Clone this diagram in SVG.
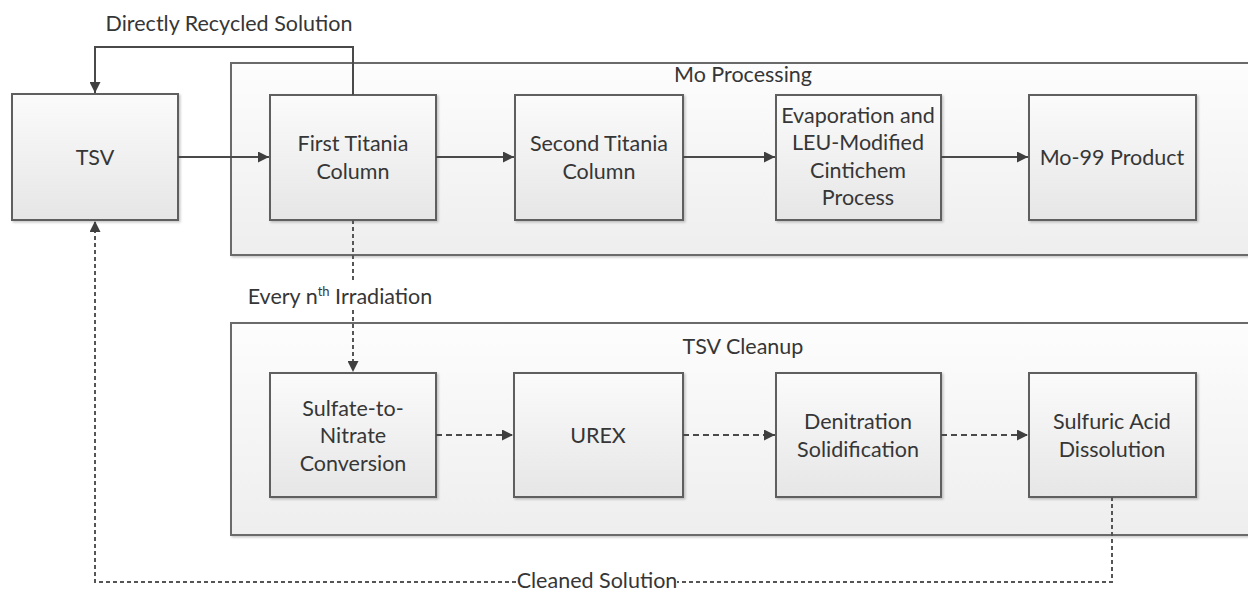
<svg xmlns="http://www.w3.org/2000/svg" width="1248" height="592" viewBox="0 0 1248 592">
<style>
.t{font-family:Lato,"Liberation Sans",sans-serif;font-size:21.5px;fill:#363636;text-anchor:middle}
.box{fill:url(#gb);stroke:#5e5e5e;stroke-width:2}
.cont{fill:url(#gc);stroke:#6a6a6a;stroke-width:2}
.c{fill:none;stroke:#4a4a4a;stroke-width:2}
.d{fill:none;stroke:#4a4a4a;stroke-width:2;stroke-dasharray:6 4}
.dd{fill:none;stroke:#555;stroke-width:2;stroke-dasharray:4 3}
</style>
<defs>
<linearGradient id="gb" x1="0" y1="0" x2="0" y2="1"><stop offset="0" stop-color="#fbfbfb"/><stop offset="1" stop-color="#e6e6e6"/></linearGradient>
<linearGradient id="gc" x1="0" y1="0" x2="0" y2="1"><stop offset="0" stop-color="#fdfdfd"/><stop offset="1" stop-color="#eeeeee"/></linearGradient>
<filter id="sh" x="-5%" y="-5%" width="115%" height="115%"><feDropShadow dx="1.5" dy="1.5" stdDeviation="1.2" flood-color="#000" flood-opacity="0.22"/></filter>
<marker id="ar" viewBox="0 0 10 10" refX="10" refY="5" markerWidth="5.5" markerHeight="5.5" orient="auto" markerUnits="strokeWidth"><path d="M0,0L10,5L0,10z" fill="#3f3f3f"/></marker>
</defs>
<g id="mo-processing"><rect class="cont" x="231" y="63" width="1030" height="192" filter="url(#sh)"/><text class="t" x="743" y="82">Mo Processing</text></g>
<g id="tsv-cleanup"><rect class="cont" x="231" y="323" width="1030" height="212" filter="url(#sh)"/><text class="t" x="743" y="354">TSV Cleanup</text></g>
<g id="tsv"><rect class="box" x="12" y="94" width="166" height="126" filter="url(#sh)"/><text class="t" x="95" y="165">TSV</text></g>
<g id="first-titania"><rect class="box" x="270" y="95" width="166" height="125" filter="url(#sh)"/><text class="t" x="353" y="151">First Titania</text><text class="t" x="353" y="179">Column</text></g>
<g id="second-titania"><rect class="box" x="515" y="95" width="168" height="125" filter="url(#sh)"/><text class="t" x="599" y="151">Second Titania</text><text class="t" x="599" y="179">Column</text></g>
<g id="evaporation"><rect class="box" x="776" y="95" width="165" height="125" filter="url(#sh)"/><text class="t" x="858" y="123">Evaporation and</text><text class="t" x="858" y="150">LEU-Modified</text><text class="t" x="858" y="178">Cintichem</text><text class="t" x="858" y="205">Process</text></g>
<g id="mo99"><rect class="box" x="1029" y="95" width="167" height="125" filter="url(#sh)"/><text class="t" x="1112" y="165">Mo-99 Product</text></g>
<g id="sulfate"><rect class="box" x="270" y="373" width="166" height="124" filter="url(#sh)"/><text class="t" x="353" y="416">Sulfate-to-</text><text class="t" x="353" y="443">Nitrate</text><text class="t" x="353" y="471">Conversion</text></g>
<g id="urex"><rect class="box" x="514" y="373" width="169" height="124" filter="url(#sh)"/><text class="t" x="598" y="443">UREX</text></g>
<g id="denitration"><rect class="box" x="776" y="373" width="165" height="124" filter="url(#sh)"/><text class="t" x="858" y="429">Denitration</text><text class="t" x="858" y="457">Solidification</text></g>
<g id="sulfuric"><rect class="box" x="1029" y="373" width="167" height="124" filter="url(#sh)"/><text class="t" x="1112" y="429">Sulfuric Acid</text><text class="t" x="1112" y="457">Dissolution</text></g>
<g id="connectors">
<path class="c" d="M178,157H269" marker-end="url(#ar)"/>
<path class="c" d="M436,157H514" marker-end="url(#ar)"/>
<path class="c" d="M683,157H775" marker-end="url(#ar)"/>
<path class="c" d="M941,157H1028" marker-end="url(#ar)"/>
<path class="c" d="M353,95V47H95V93" marker-end="url(#ar)"/>
<text class="t" x="229" y="31">Directly Recycled Solution</text>
<path class="dd" d="M353,220V283"/>
<path class="dd" d="M353,310V372" marker-end="url(#ar)"/>
<text class="t" x="340" y="304">Every n<tspan dy="-8" font-size="13">th</tspan><tspan dy="8"> Irradiation</tspan></text>
<path class="d" d="M436,435H513" marker-end="url(#ar)"/>
<path class="d" d="M683,435H775" marker-end="url(#ar)"/>
<path class="d" d="M941,435H1028" marker-end="url(#ar)"/>
<path class="dd" d="M1112,497V582H677"/>
<path class="dd" d="M516,582H95V221" marker-end="url(#ar)"/>
<text class="t" x="597" y="588" font-size="20.5">Cleaned Solution</text>
</g>
</svg>
